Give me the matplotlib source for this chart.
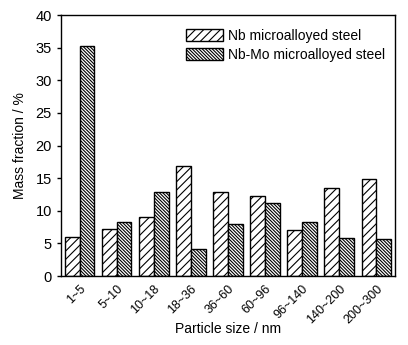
import matplotlib
matplotlib.use("Agg")
import matplotlib.pyplot as plt
import numpy as np

plt.rcParams['font.family'] = ['Liberation Sans', 'DejaVu Sans']
plt.rcParams['hatch.linewidth'] = 0.8

categories = ["1~5", "5~10", "10~18", "18~36", "36~60", "60~96", "96~140", "140~200", "200~300"]
nb = [6.0, 7.2, 9.1, 16.8, 12.8, 12.3, 7.1, 13.5, 14.9]
nbmo = [35.3, 8.3, 12.9, 4.1, 7.9, 11.2, 8.3, 5.9, 5.7]

fig = plt.figure(figsize=(4.08, 3.45), dpi=100)
ax = fig.add_axes([0.1495, 0.2, 0.8185, 0.7565])

x = np.arange(len(categories))
w = 0.4
ax.bar(x - w/2, nb, w, color='white', edgecolor='black', hatch='////', linewidth=1.0,
       label='Nb microalloyed steel')
ax.bar(x + w/2, nbmo, w, color='white', edgecolor='black', hatch='\\' * 10, linewidth=1.0,
       label='Nb-Mo microalloyed steel')

ax.set_xlim(-0.5, 8.5)
ax.set_ylim(0, 40)
ax.set_yticks(range(0, 41, 5))
ax.set_xticks(x)
ax.set_xticklabels(categories, rotation=45, ha='right', rotation_mode='anchor')
ax.tick_params(axis='x', length=0, labelsize=9, pad=5)
ax.tick_params(axis='y', direction='out', length=3, labelsize=10.5, width=1)
for s in ax.spines.values():
    s.set_linewidth(1.0)
ax.set_xlabel('Particle size / nm', fontsize=10)
ax.xaxis.set_label_coords(0.5, -0.175)
ax.set_ylabel('Mass fraction / %', fontsize=10, labelpad=6)

leg = ax.legend(loc='upper right', frameon=False, fontsize=10, handlelength=2.6,
                handleheight=1.0, handletextpad=0.4, labelspacing=0.35,
                bbox_to_anchor=(1.0, 0.985), borderaxespad=0.3)

fig.savefig('out.png', dpi=100)
